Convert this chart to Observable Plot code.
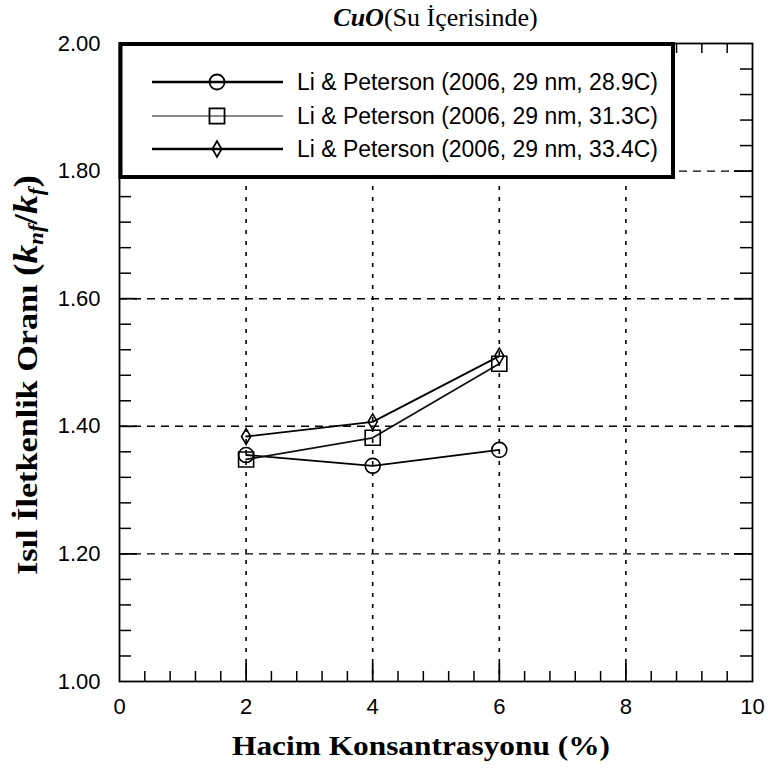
<!DOCTYPE html>
<html>
<head>
<meta charset="utf-8">
<script src="https://cdn.jsdelivr.net/npm/d3@7"></script>
<script src="https://cdn.jsdelivr.net/npm/@observablehq/plot@0.6"></script>
<style>
  html, body { margin: 0; padding: 0; background: #fff; }
  #title { width: 633px; margin-left: 119px; height: 26px; padding-top: 5px; text-align: center;
           font-family: "Liberation Serif", "Times New Roman", serif; font-size: 26px;
           line-height: 26px; color: #000; white-space: nowrap; }
  #title .cuo { font-weight: bold; font-style: italic; }
  #chart svg { display: block; }
</style>
</head>
<body>
<div id="title"><span class="cuo">CuO</span>(Su İçerisinde)</div>
<div id="chart"></div>
<script>
// ---- data ----
const concentration = [2, 4, 6];
const seriesNames = [
  "Li & Peterson (2006, 29 nm, 28.9C)",
  "Li & Peterson (2006, 29 nm, 31.3C)",
  "Li & Peterson (2006, 29 nm, 33.4C)"
];
const ratio_28_9C = [1.355, 1.338, 1.363];
const ratio_31_3C = [1.348, 1.382, 1.498];
const ratio_33_4C = [1.384, 1.407, 1.510];
const xTickValues = [0, 2, 4, 6, 8, 10];
const yTickValues = [1.00, 1.20, 1.40, 1.60, 1.80, 2.00];
const xGridValues = [2, 4, 6, 8];
const yGridValues = [1.20, 1.40, 1.60, 1.80];
const xMinorTicks = [0.4, 0.8, 1.2, 1.6, 2.4, 2.8, 3.2, 3.6, 4.4, 4.8, 5.2, 5.6, 6.4, 6.8, 7.2, 7.6, 8.4, 8.8, 9.2, 9.6];
const yMinorTicks = [1.04, 1.08, 1.12, 1.16, 1.24, 1.28, 1.32, 1.36, 1.44, 1.48, 1.52, 1.56, 1.64, 1.68, 1.72, 1.76, 1.84, 1.88, 1.92, 1.96];

// ---- layout ----
const top0 = 31;                 // page offset of the svg (title height)
const W = 768, H = 771 - top0;
const mL = 119, mR = 16, mT = 43 - top0, mB = H - (681 - top0);
const plotW = W - mL - mR, plotH = H - mT - mB;
const symbols = ["circle", "square", "diamond"];
const symbolR = [7.5, 8.5, 4.8];
const lineColors = ["#000", "#111", "#000"];
const legendLineColors = ["#000", "#8a8a8a", "#000"];

const allSeries = [ratio_28_9C, ratio_31_3C, ratio_33_4C];
const rows = [];
allSeries.forEach((vals, i) => vals.forEach((v, j) =>
  rows.push({series: seriesNames[i], idx: i, x: concentration[j], y: v})));

const dotMarks = allSeries.map((_, i) =>
  Plot.dot(rows.filter(d => d.idx === i), {
    x: "x", y: "y", symbol: () => symbols[i], r: symbolR[i],
    stroke: "#000", strokeWidth: 1.6, fill: "none"
  }));

const chart = Plot.plot({
  width: W, height: H,
  marginLeft: mL, marginRight: mR, marginTop: mT, marginBottom: mB,
  style: {fontFamily: "'Liberation Sans', Arial, sans-serif", fontSize: "22px", color: "#000", background: "#fff", overflow: "visible"},
  x: {domain: [0, 10], axis: null},
  y: {domain: [1, 2], axis: null},
  symbol: {type: "identity"},
  marks: [
    // grid
    Plot.ruleX(xGridValues, {x: d => d, stroke: "#000", strokeWidth: 1.6, strokeDasharray: "4,7"}),
    Plot.ruleY(yGridValues, {y: d => d, stroke: "#000", strokeWidth: 1.4, strokeDasharray: "8,6"}),
    // inward ticks: bottom / top
    Plot.tickX(xMinorTicks, {x: d => d, insetTop: plotH - 10, stroke: "#000", strokeWidth: 1.5}),
    Plot.tickX(xMinorTicks, {x: d => d, insetBottom: plotH - 10, stroke: "#000", strokeWidth: 1.5}),
    Plot.tickX(xGridValues, {x: d => d, insetTop: plotH - 18, stroke: "#000", strokeWidth: 1.8}),
    Plot.tickX(xGridValues, {x: d => d, insetBottom: plotH - 18, stroke: "#000", strokeWidth: 1.8}),
    // inward ticks: left / right
    Plot.tickY(yMinorTicks, {y: d => d, insetRight: plotW - 12, stroke: "#000", strokeWidth: 1.5}),
    Plot.tickY(yMinorTicks, {y: d => d, insetLeft: plotW - 12, stroke: "#000", strokeWidth: 1.5}),
    Plot.tickY(yGridValues, {y: d => d, insetRight: plotW - 18, stroke: "#000", strokeWidth: 1.8}),
    Plot.tickY(yGridValues, {y: d => d, insetLeft: plotW - 18, stroke: "#000", strokeWidth: 1.8}),
    // axes labels
    Plot.axisX(xTickValues, {tickSize: 0, tickPadding: 17, tickFormat: d => String(d), label: null, fontSize: 22}),
    Plot.axisY(yTickValues, {tickSize: 0, tickPadding: 19, tickFormat: d3.format(".2f"), label: null, fontSize: 22}),
    // data
    Plot.line(rows, {x: "x", y: "y", z: "series", stroke: d => lineColors[d.idx], strokeWidth: 1.8}),
    ...dotMarks,
    Plot.frame({stroke: "#000", strokeWidth: 1.8})
  ]
});
document.getElementById("chart").appendChild(chart);

// ---- decorations: axis titles and legend ----
const svg = d3.select(chart);
const serif = "'Liberation Serif', 'Times New Roman', serif";

// x-axis title
svg.append("text")
  .attr("x", 421).attr("y", 755 - top0)
  .attr("text-anchor", "middle")
  .attr("font-family", serif).attr("font-weight", "bold").attr("font-size", 28)
  .attr("fill", "#000")
  .attr("textLength", 378).attr("lengthAdjust", "spacingAndGlyphs")
  .text("Hacim Konsantrasyonu (%)");

// y-axis title (page y 174 .. 575, baseline near x = 37)
const yLen = 400, yCenter = 375 - top0;
const yt = svg.append("text")
  .attr("transform", `translate(37,${yCenter}) rotate(-90)`)
  .attr("x", -yLen / 2).attr("y", 0)
  .attr("text-anchor", "start")
  .attr("font-family", serif).attr("font-weight", "bold").attr("font-size", 30)
  .attr("fill", "#000")
  .attr("textLength", yLen).attr("lengthAdjust", "spacingAndGlyphs");
yt.append("tspan").text("Isıl İletkenlik Oranı ");
yt.append("tspan").attr("font-size", 33).text("(");
yt.append("tspan").attr("font-style", "italic").attr("font-size", 33).text("k");
yt.append("tspan").attr("font-style", "italic").attr("font-size", 20).attr("dy", 6).text("nf");
yt.append("tspan").attr("font-size", 33).attr("dy", -6).text("/");
yt.append("tspan").attr("font-style", "italic").attr("font-size", 33).text("k");
yt.append("tspan").attr("font-style", "italic").attr("font-size", 20).attr("dy", 6).text("f");
yt.append("tspan").attr("font-size", 33).attr("dy", -6).text(")");

// legend
const lg = svg.append("g");
const boxX = mL + 1.5, boxY = mT + 1, boxW = 673 - mL - 1.5, boxH = 177 - 43 - 1;
lg.append("rect").attr("x", boxX).attr("y", boxY).attr("width", boxW).attr("height", boxH)
  .attr("fill", "#fff").attr("stroke", "#000").attr("stroke-width", 4);
const rowY = [82 - top0, 116 - top0, 149 - top0];
const d3Sym = {circle: d3.symbolCircle, square: d3.symbolSquare, diamond: d3.symbolDiamond};
seriesNames.forEach((name, i) => {
  const y = rowY[i];
  lg.append("line").attr("x1", 152).attr("x2", 283).attr("y1", y).attr("y2", y)
    .attr("stroke", legendLineColors[i]).attr("stroke-width", i === 1 ? 1.8 : 2.6);
  lg.append("path")
    .attr("d", d3.symbol(d3Sym[symbols[i]], Math.PI * symbolR[i] * symbolR[i])())
    .attr("transform", `translate(217,${y})`)
    .attr("fill", "none").attr("stroke", "#000").attr("stroke-width", 1.8);
  lg.append("text").attr("x", 297).attr("y", y).attr("dy", "0.36em")
    .attr("text-anchor", "start")
    .attr("font-family", "'Liberation Sans', Arial, sans-serif").attr("font-size", 23)
    .attr("fill", "#000")
    .attr("textLength", 361).attr("lengthAdjust", "spacingAndGlyphs")
    .text(name);
});
</script>
</body>
</html>
